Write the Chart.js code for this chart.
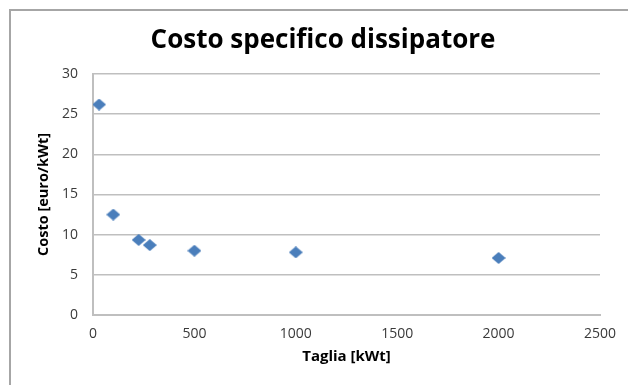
<!DOCTYPE html>
<html>
<head>
<meta charset="utf-8">
<script src="https://cdn.jsdelivr.net/npm/chart.js@4/dist/chart.umd.min.js"></script>
<style>
  html, body { margin: 0; padding: 0; background: #ffffff; }
  #wrap { width: 628px; height: 385px; position: relative; }
</style>
</head>
<body>
<div id="wrap"><canvas id="c" width="628" height="385"></canvas></div>
<script>
const taglia = [30, 100, 225, 280, 500, 1000, 2000];
const costo = [26.2, 12.5, 9.35, 8.7, 8.0, 7.8, 7.1];
const xTicks = [0, 500, 1000, 1500, 2000, 2500];
const yTicks = [0, 5, 10, 15, 20, 25, 30];
const titleText = 'Costo specifico dissipatore';
const xTitle = 'Taglia [kWt]';
const yTitle = 'Costo [euro/kWt]';

function diamond(w, h, color) {
  const c = document.createElement('canvas');
  c.width = w; c.height = h;
  const g = c.getContext('2d');
  g.fillStyle = color;
  g.beginPath();
  g.moveTo(w / 2, 0); g.lineTo(w, h / 2); g.lineTo(w / 2, h); g.lineTo(0, h / 2);
  g.closePath(); g.fill();
  return c;
}
const marker = diamond(14, 12, '#4a7ebb');

const framePlugin = {
  id: 'frame',
  beforeDraw(chart) {
    const ctx = chart.ctx;
    ctx.save();
    ctx.fillStyle = '#ffffff';
    ctx.fillRect(0, 0, chart.width, chart.height);
    ctx.strokeStyle = '#a6a6a6';
    ctx.lineWidth = 2;
    ctx.beginPath();
    ctx.moveTo(10, chart.height);
    ctx.lineTo(10, 10);
    ctx.lineTo(chart.width, 10);
    ctx.stroke();
    ctx.fillStyle = '#000000';
    ctx.font = 'bold 26px "Open Sans"';
    ctx.textAlign = 'center';
    ctx.textBaseline = 'middle';
    ctx.fillText(titleText, 323, 41);
    ctx.restore();
  }
};

new Chart(document.getElementById('c'), {
  type: 'scatter',
  data: {
    datasets: [{
      data: taglia.map((x, i) => ({ x: x, y: costo[i] })),
      pointStyle: marker,
      backgroundColor: '#4a7ebb',
      borderColor: '#4a7ebb'
    }]
  },
  options: {
    responsive: false,
    animation: false,
    devicePixelRatio: 1,
    layout: { padding: { left: 10, right: 28, top: 74, bottom: 10 } },
    plugins: { legend: { display: false }, title: { display: false }, tooltip: { enabled: false } },
    scales: {
      x: {
        type: 'linear',
        min: 0, max: 2500,
        afterBuildTicks(scale) { scale.ticks = xTicks.map(v => ({ value: v })); },
        afterFit(scale) { scale.height = 60; },
        grid: { display: false, drawTicks: false },
        border: { display: true, color: '#bfbfbf', width: 2 },
        ticks: { padding: 11, color: '#3a3a3a', font: { family: '"Open Sans"', size: 14 }, maxRotation: 0, callback: v => String(v) },
        title: { display: true, text: xTitle, color: '#000000', font: { family: '"Open Sans"', size: 15, weight: 'bold' }, padding: { top: 0, bottom: 9 } }
      },
      y: {
        type: 'linear',
        min: 0, max: 30,
        afterBuildTicks(scale) { scale.ticks = yTicks.map(v => ({ value: v })); },
        afterFit(scale) { scale.width = 83; },
        grid: { color: '#bfbfbf', lineWidth: 1.5, drawTicks: false },
        border: { display: true, color: '#bfbfbf', width: 2 },
        ticks: { padding: 15, color: '#3a3a3a', font: { family: '"Open Sans"', size: 14 }, callback: v => String(v) },
        title: { display: true, text: yTitle, color: '#000000', font: { family: '"Open Sans"', size: 14.5, weight: 'bold' }, padding: { top: 25, bottom: 0 } }
      }
    }
  },
  plugins: [framePlugin]
});
</script>
</body>
</html>
